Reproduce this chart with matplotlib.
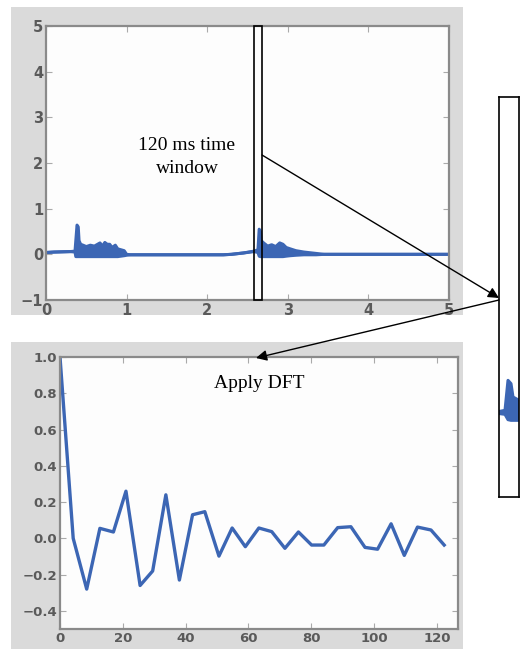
import matplotlib
matplotlib.use("Agg")
import matplotlib.pyplot as plt
from matplotlib.patches import Rectangle, FancyArrowPatch
import numpy as np

# ---- data ----
# audio signal envelope (top panel), seconds
sig_t = [0.0, 0.1, 0.3, 0.36, 0.37, 0.385, 0.40, 0.41, 0.43, 0.46, 0.50, 0.55, 0.60,
         0.64, 0.67, 0.70, 0.73, 0.76, 0.79, 0.82, 0.86, 0.89, 0.93, 0.97, 1.00, 1.05,
         2.20, 2.30, 2.45, 2.58, 2.63, 2.645, 2.66, 2.67, 2.70, 2.75, 2.80, 2.85, 2.90,
         2.94, 2.98, 3.03, 3.10, 3.20, 3.35, 3.45, 5.00]
sig_hi = [0.04, 0.05, 0.06, 0.07, 0.30, 0.64, 0.60, 0.30, 0.22, 0.20, 0.17, 0.20, 0.18,
          0.22, 0.25, 0.18, 0.26, 0.22, 0.22, 0.15, 0.20, 0.12, 0.10, 0.08, 0.00, -0.01,
          -0.01, 0.00, 0.03, 0.07, 0.10, 0.55, 0.50, 0.30, 0.25, 0.18, 0.21, 0.17, 0.25,
          0.22, 0.15, 0.12, 0.08, 0.05, 0.02, 0.00, 0.00]
sig_lo = [0.04, 0.05, 0.06, 0.05, -0.05, -0.05, -0.05, -0.05, -0.05, -0.05, -0.05, -0.05, -0.05,
          -0.05, -0.05, -0.05, -0.05, -0.05, -0.05, -0.05, -0.05, -0.05, -0.04, -0.03, -0.02, -0.01,
          -0.01, 0.00, 0.03, 0.06, 0.04, -0.04, -0.05, -0.05, -0.05, -0.05, -0.05, -0.05, -0.05,
          -0.05, -0.04, -0.03, -0.02, -0.01, -0.01, 0.00, 0.00]

# time window (seconds)
win_start, win_end = 2.58, 2.68

# DFT coefficients (bottom panel)
dft_x = [0, 4.2, 8.5, 12.7, 17.0, 21.0, 25.5, 29.5, 33.7, 38.0, 42.2, 46.1, 50.6, 54.8,
         59.0, 63.3, 67.4, 71.6, 75.9, 80.1, 84.0, 88.4, 92.6, 97.1, 101.1, 105.4, 109.6,
         113.8, 118.1, 122.3]
dft_y = [1.0, 0.0, -0.28, 0.055, 0.035, 0.26, -0.26, -0.18, 0.24, -0.23, 0.13, 0.147,
         -0.098, 0.057, -0.046, 0.057, 0.037, -0.055, 0.035, -0.037, -0.037, 0.059, 0.064,
         -0.05, -0.06, 0.08, -0.094, 0.062, 0.046, -0.037]

top_xticks = [0, 1, 2, 3, 4, 5]
top_yticks = [-1, 0, 1, 2, 3, 4, 5]
bot_xticks = [0, 20, 40, 60, 80, 100, 120]
bot_yticks = [-0.4, -0.2, 0.0, 0.2, 0.4, 0.6, 0.8, 1.0]

BLUE = "#3c66b4"
GREY_BG = "#dadada"
W, H = 525, 649


def fx(px):
    return px / W


def fy(py):
    return 1 - py / H


fig = plt.figure(figsize=(W / 100, H / 100), dpi=100)
fig.patch.set_facecolor("white")

# grey backgrounds behind each panel
fig.patches.append(Rectangle((fx(11), fy(315)), fx(463) - fx(11), fy(7) - fy(315),
                             transform=fig.transFigure, facecolor=GREY_BG, edgecolor="none", zorder=-5))
fig.patches.append(Rectangle((fx(11), fy(649)), fx(463) - fx(11), fy(342) - fy(649),
                             transform=fig.transFigure, facecolor=GREY_BG, edgecolor="none", zorder=-5))


def style(ax, fs):
    ax.set_facecolor("#fdfdfd")
    for s in ax.spines.values():
        s.set_color("#8a8a8a")
        s.set_linewidth(1.6)
    ax.tick_params(direction="in", top=True, right=True, length=4, width=0.8,
                   color="#aaaaaa", labelcolor="#5a5a5a", labelsize=fs, pad=2)
    for lab in ax.get_xticklabels() + ax.get_yticklabels():
        lab.set_fontweight("bold")


# ---- top panel ----
ax1 = fig.add_axes([fx(46), fy(300), fx(449) - fx(46), fy(26) - fy(300)])
ax1.fill_between(sig_t, sig_lo, sig_hi, color=BLUE, lw=0)
ax1.plot(sig_t, sig_hi, color=BLUE, lw=2.2)
ax1.plot(sig_t, sig_lo, color=BLUE, lw=2.2)
ax1.set_xlim(0, 5)
ax1.set_ylim(-1, 5)
ax1.set_xticks(top_xticks)
ax1.set_yticks(top_yticks)
style(ax1, 10.5)
ax1.add_patch(Rectangle((win_start, -1), win_end - win_start, 6, facecolor="none",
                        edgecolor="black", lw=1.2, clip_on=False, zorder=5))

# ---- bottom panel ----
ax2 = fig.add_axes([fx(60), fy(629), fx(458) - fx(60), fy(357) - fy(629)])
ax2.plot(dft_x, dft_y, color=BLUE, lw=2.4)
ax2.set_xlim(0, 126.7)
ax2.set_ylim(-0.5, 1.0)
ax2.set_xticks(bot_xticks)
ax2.set_yticks(bot_yticks)
ax2.set_yticklabels(["%.1f" % v if v >= 0 else "\u2212%.1f" % -v for v in bot_yticks])
style(ax2, 9.5)

# ---- zoomed window inset ----
ax3 = fig.add_axes([fx(499), fy(497), fx(519) - fx(499), fy(97) - fy(497)])
ax3.fill_between(sig_t, sig_lo, sig_hi, color=BLUE, lw=0)
ax3.plot(sig_t, sig_hi, color=BLUE, lw=2.2)
ax3.plot(sig_t, sig_lo, color=BLUE, lw=2.2)
ax3.set_xlim(2.60, 2.70)
ax3.set_ylim(-1.2, 4.8)
ax3.set_xticks([])
ax3.set_yticks([])
for s in ax3.spines.values():
    s.set_color("black")
    s.set_linewidth(1.2)

# ---- annotations ----
serif = ["Liberation Serif", "DejaVu Serif"]
fig.text(fx(187), fy(157), "120 ms time\nwindow", ha="center", va="center",
         fontsize=14, family=serif, linespacing=1.45)
fig.text(fx(259), fy(383), "Apply DFT", ha="center", va="center",
         fontsize=14, family=serif)

a1 = FancyArrowPatch((fx(262), fy(155)), (fx(499), fy(298)), transform=fig.transFigure,
                     arrowstyle="-|>", mutation_scale=16, color="black", lw=1.0,
                     shrinkA=0, shrinkB=0)
a2 = FancyArrowPatch((fx(499), fy(300)), (fx(256), fy(358)), transform=fig.transFigure,
                     arrowstyle="-|>", mutation_scale=16, color="black", lw=1.0,
                     shrinkA=0, shrinkB=0)
fig.add_artist(a1)
fig.add_artist(a2)

fig.savefig("out.png", dpi=100)
